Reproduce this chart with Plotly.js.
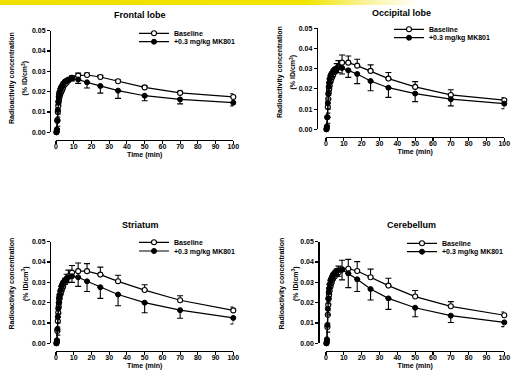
<!DOCTYPE html>
<html>
<head>
<meta charset="utf-8">
<script src="https://cdn.plot.ly/plotly-3.0.1.min.js"></script>
<style>
  html, body { margin: 0; padding: 0; background: #ffffff; }
  #chart {
    width: 511px; height: 375px;
    background: linear-gradient(to right, #f0df00 0%, #f3e400 60%, #fbf3a0 72%, #ffffff 82%) top left / 100% 5px no-repeat, #ffffff;
  }
</style>
</head>
<body>
<div id="chart"></div>
<script>
// ---- data (time in min, radioactivity concentration in %ID/cm3) ----
const time = [0.25, 0.5, 0.75, 1, 1.25, 1.5, 1.75, 2, 2.5, 3, 3.5, 4, 5, 6, 7, 9, 12.5, 17.5, 25, 35, 50, 70, 100];

const regionNames = ["Frontal lobe", "Occipital lobe", "Striatum", "Cerebellum"];
const seriesNames = ["Baseline", "+0.3 mg/kg MK801"];
const xTickVals = [0, 10, 20, 30, 40, 50, 60, 70, 80, 90, 100];
const yTickVals = [0, 0.01, 0.02, 0.03, 0.04, 0.05];
const yTitleLine1 = "Radioactivity concentration";
const yTitleLine2 = "(% ID/cm<sup>3</sup>)";
const xTitle = "Time (min)";

// Frontal lobe
const frontalBaseline    = [0.0000,0.0010,0.0060,0.0100,0.0130,0.0150,0.0165,0.0175,0.0190,0.0200,0.0210,0.0220,0.0235,0.0245,0.0255,0.0268,0.0279,0.0282,0.0272,0.0251,0.0221,0.0194,0.0174];
const frontalBaselineErr = [0.0003,0.0008,0.0015,0.0015,0.0012,0.0010,0.0010,0.0008,0.0008,0.0008,0.0008,0.0008,0.0008,0.0008,0.0008,0.0010,0.0012,0.0010,0.0008,0.0006,0.0006,0.0008,0.0016];
const frontalMK801       = [0.0000,0.0015,0.0055,0.0110,0.0150,0.0175,0.0190,0.0200,0.0215,0.0225,0.0230,0.0240,0.0250,0.0255,0.0260,0.0265,0.0260,0.0246,0.0228,0.0205,0.0180,0.0162,0.0146];
const frontalMK801Err    = [0.0005,0.0015,0.0025,0.0020,0.0015,0.0012,0.0010,0.0010,0.0010,0.0010,0.0010,0.0010,0.0010,0.0010,0.0010,0.0012,0.0019,0.0028,0.0035,0.0038,0.0025,0.0022,0.0016];

// Occipital lobe
const occipitalBaseline    = [0.0000,0.0010,0.0060,0.0110,0.0150,0.0180,0.0200,0.0215,0.0235,0.0250,0.0260,0.0270,0.0285,0.0300,0.0310,0.0330,0.0330,0.0315,0.0289,0.0251,0.0210,0.0170,0.0144];
const occipitalBaselineErr = [0.0003,0.0010,0.0020,0.0020,0.0018,0.0015,0.0015,0.0015,0.0015,0.0015,0.0015,0.0018,0.0020,0.0025,0.0030,0.0038,0.0033,0.0032,0.0030,0.0030,0.0026,0.0026,0.0012];
const occipitalMK801       = [0.0000,0.0015,0.0060,0.0130,0.0175,0.0210,0.0230,0.0250,0.0265,0.0275,0.0280,0.0290,0.0298,0.0303,0.0305,0.0304,0.0292,0.0274,0.0239,0.0206,0.0177,0.0149,0.0127];
const occipitalMK801Err    = [0.0005,0.0020,0.0030,0.0030,0.0025,0.0020,0.0020,0.0018,0.0018,0.0018,0.0018,0.0018,0.0020,0.0022,0.0025,0.0030,0.0035,0.0048,0.0048,0.0048,0.0040,0.0033,0.0025];

// Striatum
const striatumBaseline    = [0.0000,0.0010,0.0060,0.0110,0.0150,0.0180,0.0200,0.0220,0.0240,0.0255,0.0270,0.0280,0.0300,0.0315,0.0330,0.0348,0.0355,0.0355,0.0338,0.0305,0.0262,0.0212,0.0162];
const striatumBaselineErr = [0.0003,0.0010,0.0020,0.0020,0.0018,0.0015,0.0015,0.0015,0.0015,0.0015,0.0015,0.0018,0.0020,0.0025,0.0030,0.0035,0.0040,0.0037,0.0037,0.0030,0.0026,0.0022,0.0017];
const striatumMK801       = [0.0000,0.0015,0.0070,0.0130,0.0170,0.0200,0.0225,0.0240,0.0260,0.0280,0.0290,0.0300,0.0310,0.0320,0.0325,0.0330,0.0325,0.0305,0.0276,0.0240,0.0200,0.0163,0.0125];
const striatumMK801Err    = [0.0005,0.0020,0.0030,0.0030,0.0025,0.0020,0.0020,0.0018,0.0018,0.0018,0.0018,0.0018,0.0020,0.0022,0.0025,0.0030,0.0045,0.0050,0.0055,0.0055,0.0050,0.0040,0.0030];

// Cerebellum
const cerebellumBaseline    = [0.0000,0.0010,0.0080,0.0140,0.0190,0.0220,0.0240,0.0260,0.0280,0.0295,0.0310,0.0320,0.0330,0.0340,0.0350,0.0364,0.0367,0.0356,0.0325,0.0284,0.0230,0.0182,0.0138];
const cerebellumBaselineErr = [0.0003,0.0010,0.0020,0.0020,0.0018,0.0015,0.0015,0.0015,0.0015,0.0015,0.0015,0.0018,0.0020,0.0025,0.0030,0.0045,0.0046,0.0046,0.0040,0.0036,0.0030,0.0023,0.0016];
const cerebellumMK801       = [0.0000,0.0020,0.0090,0.0170,0.0220,0.0250,0.0270,0.0290,0.0310,0.0320,0.0330,0.0340,0.0350,0.0357,0.0360,0.0362,0.0344,0.0315,0.0267,0.0221,0.0175,0.0136,0.0103];
const cerebellumMK801Err    = [0.0005,0.0025,0.0035,0.0030,0.0025,0.0020,0.0020,0.0018,0.0018,0.0018,0.0018,0.0018,0.0020,0.0025,0.0030,0.0050,0.0070,0.0060,0.0054,0.0054,0.0044,0.0034,0.0021];

const baselineSets = [frontalBaseline, occipitalBaseline, striatumBaseline, cerebellumBaseline];
const baselineErrs = [frontalBaselineErr, occipitalBaselineErr, striatumBaselineErr, cerebellumBaselineErr];
const mk801Sets    = [frontalMK801, occipitalMK801, striatumMK801, cerebellumMK801];
const mk801Errs    = [frontalMK801Err, occipitalMK801Err, striatumMK801Err, cerebellumMK801Err];

// ---- layout geometry (pixels in the 511x375 page) ----
const W = 511, H = 375;
const px = v => v / W;
const py = v => 1 - v / H;

const panels = [
  { x0: 56,  x1: 233.3, yb: 132.3, yt: 30.7,  yLine: 50,    xLine: 140,   title: [140, 15],    yt1: [11.5, 78.5], yt2: [25, 78.5],   leg: [134, 33.3, 41.7] },
  { x0: 326, x1: 504.3, yb: 129.3, yt: 28.3,  yLine: 316.7, xLine: 137,   title: [401.7, 13],  yt1: [280, 72],    yt2: [293.5, 72],  leg: [389, 29.3, 37.7] },
  { x0: 56,  x1: 233.3, yb: 343.3, yt: 241.7, yLine: 50,    xLine: 351,   title: [140, 225],   yt1: [11.5, 284],  yt2: [25, 284],    leg: [134, 242.3, 251] },
  { x0: 326, x1: 504.3, yb: 343.3, yt: 241.7, yLine: 318.3, xLine: 351,   title: [411.7, 225], yt1: [281.5, 284], yt2: [295, 284],   leg: [402, 243.3, 251.7] }
];

const FONT = "Liberation Sans, Arial, Helvetica, sans-serif";
const bold = (size) => ({ family: FONT, size: size, color: "#000000", weight: "bold" });

const data = [];
const layout = {
  width: W, height: H,
  margin: { l: 0, r: 0, t: 0, b: 0 },
  paper_bgcolor: "rgba(0,0,0,0)",
  plot_bgcolor: "rgba(0,0,0,0)",
  showlegend: true,
  annotations: []
};

panels.forEach((p, i) => {
  const k = i + 1;
  const xa = k === 1 ? "x" : "x" + k;
  const ya = k === 1 ? "y" : "y" + k;
  const legA = 2 * i + 1, legB = 2 * i + 2;
  const legNameA = legA === 1 ? "legend" : "legend" + legA;
  const legNameB = "legend" + legB;

  data.push({
    type: "scatter", mode: "lines+markers",
    x: time, y: baselineSets[i],
    xaxis: xa, yaxis: ya,
    name: seriesNames[0], legend: legNameA,
    line: { color: "#000000", width: 1.2 },
    marker: { symbol: "circle", size: 5, color: "#ffffff", line: { color: "#000000", width: 1.1 } },
    error_y: { type: "data", symmetric: false, array: baselineErrs[i], arrayminus: baselineErrs[i].map(() => 0), color: "#000000", thickness: 1.1, width: 3 },
    cliponaxis: false, hoverinfo: "skip"
  });
  data.push({
    type: "scatter", mode: "lines+markers",
    x: time, y: mk801Sets[i],
    xaxis: xa, yaxis: ya,
    name: seriesNames[1], legend: legNameB,
    line: { color: "#000000", width: 1.2 },
    marker: { symbol: "circle", size: 5, color: "#000000", line: { color: "#000000", width: 1 } },
    error_y: { type: "data", symmetric: false, array: mk801Errs[i].map(() => 0), arrayminus: mk801Errs[i], color: "#000000", thickness: 1.1, width: 3 },
    cliponaxis: false, hoverinfo: "skip"
  });

  const xKey = k === 1 ? "xaxis" : "xaxis" + k;
  const yKey = k === 1 ? "yaxis" : "yaxis" + k;
  layout[xKey] = {
    domain: [px(p.x0), px(p.x1)],
    anchor: "free", position: py(p.xLine),
    range: [0, 100], tickvals: xTickVals,
    showgrid: false, zeroline: false,
    showline: true, linecolor: "#000000", linewidth: 1.3,
    ticks: "outside", ticklen: 3, tickwidth: 1.1, tickcolor: "#000000",
    tickfont: bold(7), ticklabelstandoff: -4,
    title: { text: xTitle, font: bold(7), standoff: 3 },
    fixedrange: true
  };
  layout[yKey] = {
    domain: [py(p.yb), py(p.yt)],
    anchor: "free", position: px(p.yLine),
    range: [0, 0.05], tickvals: yTickVals, tickformat: ".2f",
    showgrid: false, zeroline: false,
    showline: true, linecolor: "#000000", linewidth: 1.3,
    ticks: "outside", ticklen: 3, tickwidth: 1.1, tickcolor: "#000000",
    tickfont: bold(7),
    fixedrange: true
  };

  const legStyle = (yc) => ({
    x: px(p.leg[0]), y: py(yc), xanchor: "left", yanchor: "middle",
    xref: "paper", yref: "paper",
    bgcolor: "rgba(0,0,0,0)", borderwidth: 0,
    font: bold(7), itemclick: false, itemdoubleclick: false
  });
  layout[legNameA] = legStyle(p.leg[1]);
  layout[legNameB] = legStyle(p.leg[2]);

  layout.annotations.push({
    text: regionNames[i], xref: "paper", yref: "paper",
    x: px(p.title[0]), y: py(p.title[1]), xanchor: "center", yanchor: "middle",
    showarrow: false, font: bold(9)
  });
  layout.annotations.push({
    text: yTitleLine1, xref: "paper", yref: "paper", textangle: -90,
    x: px(p.yt1[0]), y: py(p.yt1[1]), xanchor: "center", yanchor: "middle",
    showarrow: false, font: bold(7)
  });
  layout.annotations.push({
    text: yTitleLine2, xref: "paper", yref: "paper", textangle: -90,
    x: px(p.yt2[0]), y: py(p.yt2[1]), xanchor: "center", yanchor: "middle",
    showarrow: false, font: bold(7)
  });
});

Plotly.newPlot("chart", data, layout, { displayModeBar: false, staticPlot: true });
</script>
</body>
</html>
